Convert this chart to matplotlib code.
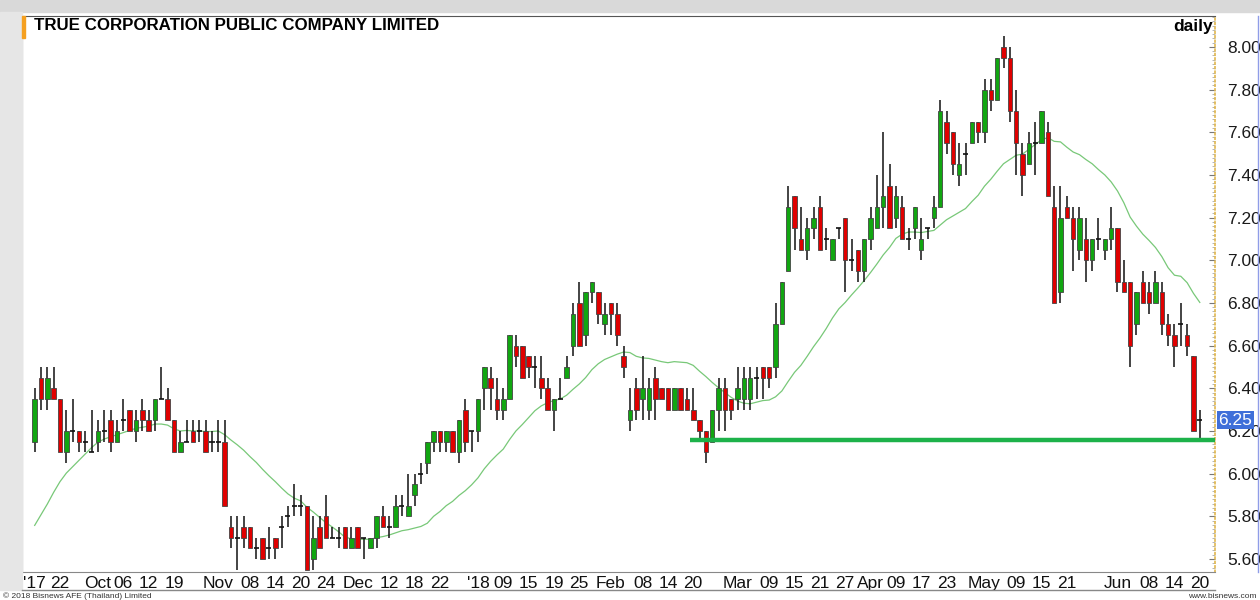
import numpy as np
import matplotlib.pyplot as plt
from matplotlib.patches import Rectangle
from matplotlib.lines import Line2D
from matplotlib.ticker import MultipleLocator

# daily OHLC, TRUE, 18 Sep 2017 .. 20 Jun 2018 (one entry per trading day)
opens = [6.15, 6.45, 6.35, 6.40, 6.35, 6.10, 6.20, 6.20, 6.15, 6.10,
         6.15, 6.20, 6.25, 6.15, 6.25, 6.30, 6.20, 6.30, 6.25, 6.25,
         6.35, 6.35, 6.25, 6.10, 6.15, 6.20, 6.20, 6.20, 6.15, 6.15,
         6.15, 5.75, 5.70, 5.75, 5.75, 5.65, 5.70, 5.65, 5.70, 5.75,
         5.80, 5.85, 5.85, 5.85, 5.60, 5.75, 5.80, 5.70, 5.70, 5.75,
         5.65, 5.75, 5.70, 5.65, 5.70, 5.80, 5.75, 5.75, 5.85, 5.80,
         5.90, 6.00, 6.05, 6.15, 6.20, 6.15, 6.20, 6.10, 6.30, 6.20,
         6.20, 6.40, 6.45, 6.35, 6.30, 6.35, 6.60, 6.60, 6.55, 6.50,
         6.45, 6.40, 6.30, 6.35, 6.45, 6.60, 6.80, 6.65, 6.85, 6.85,
         6.70, 6.80, 6.75, 6.55, 6.25, 6.40, 6.35, 6.30, 6.45, 6.40,
         6.40, 6.30, 6.40, 6.35, 6.30, 6.25, 6.20, 6.15, 6.30, 6.40,
         6.35, 6.35, 6.35, 6.35, 6.45, 6.50, 6.50, 6.50, 6.70, 6.95,
         7.30, 7.10, 7.05, 7.15, 7.25, 7.10, 7.00, 7.15, 7.20, 7.00,
         7.05, 6.95, 7.10, 7.15, 7.25, 7.35, 7.20, 7.25, 7.10, 7.15,
         7.05, 7.15, 7.20, 7.25, 7.65, 7.60, 7.40, 7.50, 7.55, 7.65,
         7.60, 7.80, 7.75, 8.00, 7.95, 7.70, 7.50, 7.45, 7.55, 7.55,
         7.60, 7.25, 6.85, 7.25, 7.20, 7.05, 7.10, 7.00, 7.10, 7.05,
         7.10, 7.15, 6.90, 6.90, 6.70, 6.90, 6.85, 6.80, 6.85, 6.70,
         6.65, 6.70, 6.65, 6.55, 6.25]
highs = [6.40, 6.50, 6.50, 6.50, 6.35, 6.30, 6.35, 6.20, 6.20, 6.30,
         6.25, 6.30, 6.30, 6.25, 6.35, 6.30, 6.30, 6.35, 6.30, 6.35,
         6.50, 6.40, 6.25, 6.20, 6.25, 6.25, 6.25, 6.25, 6.20, 6.25,
         6.25, 5.80, 5.80, 5.80, 5.75, 5.70, 5.70, 5.75, 5.70, 5.80,
         5.85, 5.95, 5.90, 5.85, 5.80, 5.80, 5.90, 5.75, 5.75, 5.75,
         5.75, 5.75, 5.70, 5.70, 5.80, 5.85, 5.80, 5.90, 5.90, 6.00,
         6.00, 6.05, 6.15, 6.20, 6.20, 6.20, 6.20, 6.25, 6.35, 6.20,
         6.35, 6.50, 6.50, 6.45, 6.40, 6.65, 6.65, 6.60, 6.55, 6.55,
         6.55, 6.45, 6.35, 6.45, 6.55, 6.80, 6.90, 6.85, 6.90, 6.85,
         6.80, 6.80, 6.80, 6.60, 6.40, 6.45, 6.55, 6.45, 6.50, 6.40,
         6.40, 6.40, 6.40, 6.40, 6.40, 6.25, 6.20, 6.30, 6.45, 6.45,
         6.35, 6.50, 6.50, 6.50, 6.50, 6.50, 6.50, 6.80, 6.90, 7.35,
         7.30, 7.25, 7.20, 7.25, 7.30, 7.15, 7.10, 7.15, 7.20, 7.10,
         7.05, 7.10, 7.25, 7.40, 7.60, 7.45, 7.35, 7.30, 7.15, 7.25,
         7.20, 7.15, 7.30, 7.75, 7.70, 7.60, 7.55, 7.55, 7.65, 7.65,
         7.85, 7.85, 7.95, 8.05, 8.00, 7.80, 7.55, 7.60, 7.65, 7.70,
         7.65, 7.35, 7.35, 7.30, 7.25, 7.25, 7.20, 7.10, 7.20, 7.10,
         7.25, 7.15, 7.00, 6.90, 6.85, 6.95, 6.90, 6.95, 6.90, 6.75,
         6.70, 6.80, 6.70, 6.55, 6.30]
lows = [6.10, 6.30, 6.30, 6.35, 6.10, 6.05, 6.15, 6.10, 6.10, 6.10,
        6.10, 6.15, 6.10, 6.15, 6.20, 6.20, 6.15, 6.20, 6.20, 6.20,
        6.35, 6.25, 6.10, 6.10, 6.15, 6.15, 6.15, 6.10, 6.10, 6.10,
        5.85, 5.65, 5.55, 5.65, 5.65, 5.60, 5.60, 5.60, 5.60, 5.65,
        5.75, 5.80, 5.80, 5.55, 5.55, 5.65, 5.70, 5.70, 5.65, 5.65,
        5.65, 5.65, 5.60, 5.65, 5.65, 5.75, 5.70, 5.75, 5.80, 5.80,
        5.85, 5.95, 6.00, 6.10, 6.10, 6.10, 6.10, 6.05, 6.10, 6.10,
        6.15, 6.30, 6.30, 6.25, 6.25, 6.35, 6.50, 6.45, 6.45, 6.40,
        6.35, 6.30, 6.20, 6.35, 6.45, 6.55, 6.60, 6.60, 6.80, 6.70,
        6.65, 6.65, 6.60, 6.45, 6.20, 6.25, 6.25, 6.25, 6.25, 6.35,
        6.30, 6.30, 6.30, 6.30, 6.25, 6.15, 6.05, 6.15, 6.20, 6.20,
        6.25, 6.30, 6.30, 6.30, 6.35, 6.35, 6.40, 6.45, 6.70, 6.95,
        7.05, 7.05, 7.00, 7.10, 7.05, 7.05, 7.00, 7.10, 6.85, 6.95,
        6.90, 6.90, 7.05, 7.15, 7.15, 7.15, 7.15, 7.10, 7.05, 7.10,
        7.00, 7.10, 7.15, 7.25, 7.50, 7.40, 7.35, 7.40, 7.55, 7.55,
        7.55, 7.70, 7.75, 7.90, 7.65, 7.40, 7.30, 7.45, 7.40, 7.55,
        7.30, 6.80, 6.80, 7.20, 6.95, 7.00, 6.90, 6.95, 7.05, 7.00,
        7.05, 6.85, 6.85, 6.50, 6.65, 6.80, 6.75, 6.80, 6.65, 6.60,
        6.50, 6.60, 6.55, 6.20, 6.15]
closes = [6.35, 6.35, 6.45, 6.35, 6.10, 6.20, 6.20, 6.15, 6.15, 6.10,
          6.20, 6.20, 6.15, 6.20, 6.25, 6.20, 6.25, 6.25, 6.20, 6.35,
          6.35, 6.25, 6.10, 6.15, 6.15, 6.15, 6.20, 6.10, 6.15, 6.15,
          5.85, 5.70, 5.70, 5.70, 5.65, 5.65, 5.60, 5.65, 5.65, 5.75,
          5.80, 5.85, 5.85, 5.55, 5.70, 5.65, 5.70, 5.70, 5.70, 5.65,
          5.70, 5.65, 5.70, 5.70, 5.80, 5.75, 5.75, 5.85, 5.85, 5.85,
          5.95, 6.00, 6.15, 6.20, 6.15, 6.20, 6.10, 6.25, 6.15, 6.20,
          6.35, 6.50, 6.40, 6.30, 6.35, 6.65, 6.55, 6.45, 6.50, 6.50,
          6.40, 6.30, 6.35, 6.35, 6.50, 6.75, 6.60, 6.85, 6.90, 6.75,
          6.75, 6.75, 6.65, 6.50, 6.30, 6.30, 6.40, 6.40, 6.35, 6.35,
          6.30, 6.40, 6.30, 6.30, 6.25, 6.20, 6.10, 6.30, 6.40, 6.30,
          6.30, 6.40, 6.45, 6.45, 6.45, 6.45, 6.45, 6.70, 6.90, 7.25,
          7.15, 7.05, 7.15, 7.20, 7.05, 7.10, 7.10, 7.15, 7.00, 7.00,
          6.95, 7.10, 7.20, 7.25, 7.30, 7.15, 7.30, 7.10, 7.10, 7.25,
          7.10, 7.15, 7.25, 7.70, 7.55, 7.45, 7.45, 7.50, 7.65, 7.60,
          7.80, 7.75, 7.95, 7.95, 7.70, 7.55, 7.40, 7.55, 7.55, 7.70,
          7.30, 6.80, 7.20, 7.20, 7.10, 7.20, 7.00, 7.10, 7.10, 7.10,
          7.15, 6.90, 6.85, 6.60, 6.85, 6.80, 6.80, 6.90, 6.70, 6.65,
          6.60, 6.70, 6.60, 6.20, 6.25]
# closes before the first visible day, needed for the moving average
prior_closes = [5.35, 5.45, 5.25, 5.10, 5.40, 5.60, 5.55, 5.55, 5.50, 5.70,
                5.90, 5.95, 6.00, 6.05, 6.00, 6.05, 6.15, 6.10, 6.15]
ma_period = 20

# date labels: index of the trading day and its text
tick_idx = [0, 4, 10, 14, 18, 22, 29, 34, 38, 42, 46, 51, 56, 60, 64,
            70, 74, 78, 82, 86, 91, 96, 100, 104, 111, 116, 120, 124, 128,
            132, 136, 140, 144, 150, 155, 159, 163, 171, 176, 180, 184]
tick_text = ["'17", "22", "Oct", "06", "12", "19", "Nov", "08", "14", "20", "24",
             "Dec", "12", "18", "22", "'18", "09", "15", "19", "25", "Feb", "08",
             "14", "20", "Mar", "09", "15", "21", "27", "Apr", "09", "17", "23",
             "May", "09", "15", "21", "Jun", "08", "14", "20"]
price_ticks = [5.6, 5.8, 6.0, 6.2, 6.4, 6.6, 6.8, 7.0, 7.2, 7.4, 7.6, 7.8, 8.0]

support_level = 6.16
support_from = 104   # Feb 20 low

o = np.array(opens)
h = np.array(highs)
l = np.array(lows)
c = np.array(closes)
n = len(c)
x = np.arange(n)
ma = np.convolve(np.array(prior_closes + closes), np.ones(ma_period) / ma_period, mode='valid')

W, H = 1260, 600
fig = plt.figure(figsize=(12.6, 6), dpi=100)
fig.patches.append(Rectangle((0, 1 - 12 / H), 1, 12 / H, transform=fig.transFigure,
                             color='#d9d9d9', zorder=0))
fig.patches.append(Rectangle((0, 10 / H), 22 / W, 1 - 22 / H, transform=fig.transFigure,
                             color='#e6e6e6', zorder=0))

ax = fig.add_axes([22 / W, 28 / H, (1215 - 22) / W, (572 - 16) / H])

green = '#11a611'
red = '#e00000'
ax.vlines(x, l, h, color='#111111', lw=1.1, zorder=2)
doji = c == o
body = ~doji
ax.bar(x[body], np.abs(c - o)[body], bottom=np.minimum(o, c)[body], width=0.72,
       color=np.where(c > o, green, red)[body], edgecolor='#444444', lw=0.6, zorder=3)
ax.hlines(c[doji], x[doji] - 0.4, x[doji] + 0.4, color='#111111', lw=1.2, zorder=3)

ax.plot(x, ma, color='#78c878', lw=0.9, zorder=1)

ax.set_xlim(-2.0, 186.4)
ax.set_ylim(5.539, 8.145)
ax.hlines(support_level, support_from - 0.5, ax.get_xlim()[1], color='#1db24a', lw=3.2, zorder=4)

ax.yaxis.tick_right()
ax.set_yticks(price_ticks)
ax.set_yticklabels([f'{v:.2f}' for v in price_ticks], fontsize=12.5, color='#1a1a1a',
                   family='Liberation Sans')
ax.yaxis.set_minor_locator(MultipleLocator(0.02))
ax.tick_params(axis='y', which='major', direction='in', length=4, pad=9, color='#777777')
ax.tick_params(axis='y', which='minor', direction='in', length=2, color='#aaaaaa')
ax.set_xticks(tick_idx)
ax.set_xticklabels(tick_text, fontsize=12.5, color='#111111',
                   family=['Liberation Sans Narrow', 'Liberation Sans'])
ax.tick_params(axis='x', length=0, pad=3)

for s in ['left', 'top']:
    ax.spines[s].set_color('#555555')
ax.spines['bottom'].set_color('#888888')
ax.spines['right'].set_color('#e2b84e')
ax.spines['right'].set_linestyle(':')
ax.spines['right'].set_linewidth(1.2)

# last price marker
ax.annotate(f'{c[-1]:.2f}', xy=(1.0, c[-1]), xycoords=('axes fraction', 'data'),
            xytext=(2.5, 0), textcoords='offset points', va='center', ha='left',
            fontsize=12.5, color='white', family='Liberation Sans',
            bbox=dict(boxstyle='square,pad=0.08', fc='#3f6fd9', ec='none'))

fig.add_artist(Rectangle((22 / W, 1 - 38 / H), 3 / W, 22 / H, transform=fig.transFigure,
                         color='#f5a020', zorder=5))
fig.text(34 / W, 1 - 25 / H, 'TRUE CORPORATION PUBLIC COMPANY LIMITED', fontsize=12.2,
         fontweight='bold', family='Liberation Sans', va='center', ha='left')
fig.text(1213 / W, 1 - 27 / H, 'daily', fontsize=12.5, fontweight='bold',
         family='Liberation Sans', va='center', ha='right')

fig.add_artist(Line2D([22 / W, 1215 / W], [10 / H, 10 / H], color='#888888', lw=1))
fig.add_artist(Line2D([1258 / W, 1258 / W], [28 / H, 1 - 16 / H], color='#8f9de8', lw=1))
fig.text(3 / W, 4 / H, '\u00a9 2018 Bisnews AFE (Thailand) Limited', fontsize=6,
         family='Liberation Sans', va='center', ha='left', color='#333333')
fig.text(1257 / W, 4 / H, 'www.bisnews.com', fontsize=6, family='Liberation Sans',
         va='center', ha='right', color='#333333')

fig.savefig('out.png', dpi=100)
